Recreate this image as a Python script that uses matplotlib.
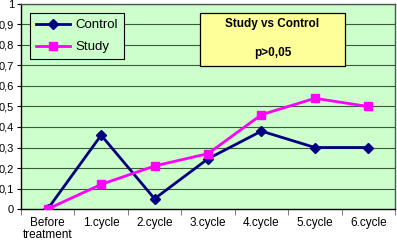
import matplotlib
matplotlib.use("Agg")
import matplotlib.pyplot as plt
from matplotlib.patches import Rectangle
import numpy as np

categories = ["Before\ntreatment", "1.cycle", "2.cycle", "3.cycle", "4.cycle", "5.cycle", "6.cycle"]
control = [0.0, 0.36, 0.05, 0.245, 0.38, 0.30, 0.30]
study = [0.0, 0.12, 0.21, 0.27, 0.46, 0.54, 0.50]
yticks = [0, 0.1, 0.2, 0.3, 0.4, 0.5, 0.6, 0.7, 0.8, 0.9, 1]
ylabels = ["0", "0,1", "0,2", "0,3", "0,4", "0,5", "0,6", "0,7", "0,8", "0,9", "1"]

plt.rcParams['font.family'] = ['Liberation Sans', 'DejaVu Sans']
fig = plt.figure(figsize=(3.97, 2.43), dpi=100)
ax = fig.add_axes([21/397, 1 - 209/243, 374/397, 205/243])
ax.set_facecolor("#CCFFCC")
x = np.arange(len(categories))
ax.set_xlim(-0.5, len(categories) - 0.5)
ax.set_ylim(0, 1)
ax.set_yticks(yticks)
ax.set_yticklabels(ylabels, fontsize=8)
for y in yticks[1:]:
    ax.axhline(y, color="#3a5a3a", lw=0.8, zorder=1)
ax.plot(x, control, color="#000080", lw=2, marker="D", ms=5, label="Control", zorder=3)
ax.plot(x, study, color="#FF00FF", lw=2, marker="s", ms=6, label="Study", zorder=3)
ax.set_xticks(x)
ax.set_xticklabels(categories, fontsize=8.5, linespacing=1.0)
ax.tick_params(axis='x', length=0, pad=6)
ax.set_xticks(np.arange(len(categories) + 1) - 0.5, minor=True)
ax.tick_params(axis='x', which='minor', length=4, direction='out', color='#666666')
ax.tick_params(axis='y', length=3, pad=2)
for s in ["left", "bottom"]:
    ax.spines[s].set_color("black")
    ax.spines[s].set_linewidth(1)
for s in ["top", "right"]:
    ax.spines[s].set_color("#555555")
    ax.spines[s].set_linewidth(1)
leg = ax.legend(loc="upper left", bbox_to_anchor=(9/374, 1 - 9/205), fontsize=9.5,
                frameon=True, fancybox=False, edgecolor="black", framealpha=1,
                facecolor="#CCFFCC", borderpad=0.45, handlelength=2.6, handletextpad=0.4,
                labelspacing=0.75, borderaxespad=0)
leg.get_frame().set_linewidth(0.8)
x0, x1 = (200 - 21) / 374, (345 - 21) / 374
y0, y1 = (209 - 66) / 205, (209 - 13) / 205
ax.add_patch(Rectangle((x0, y0), x1 - x0, y1 - y0, transform=ax.transAxes,
                       facecolor="#FFFF99", edgecolor="black", lw=0.9, zorder=5))
xc = (x0 + x1) / 2
ax.text(xc, (209 - 24) / 205, "Study vs Control", transform=ax.transAxes, ha="center", va="center",
        fontsize=8.5, fontweight="bold", zorder=6)
ax.text(xc, (209 - 53) / 205, "p>0,05", transform=ax.transAxes, ha="center", va="center",
        fontsize=8.5, fontweight="bold", zorder=6)
fig.savefig("out.png", dpi=100)
